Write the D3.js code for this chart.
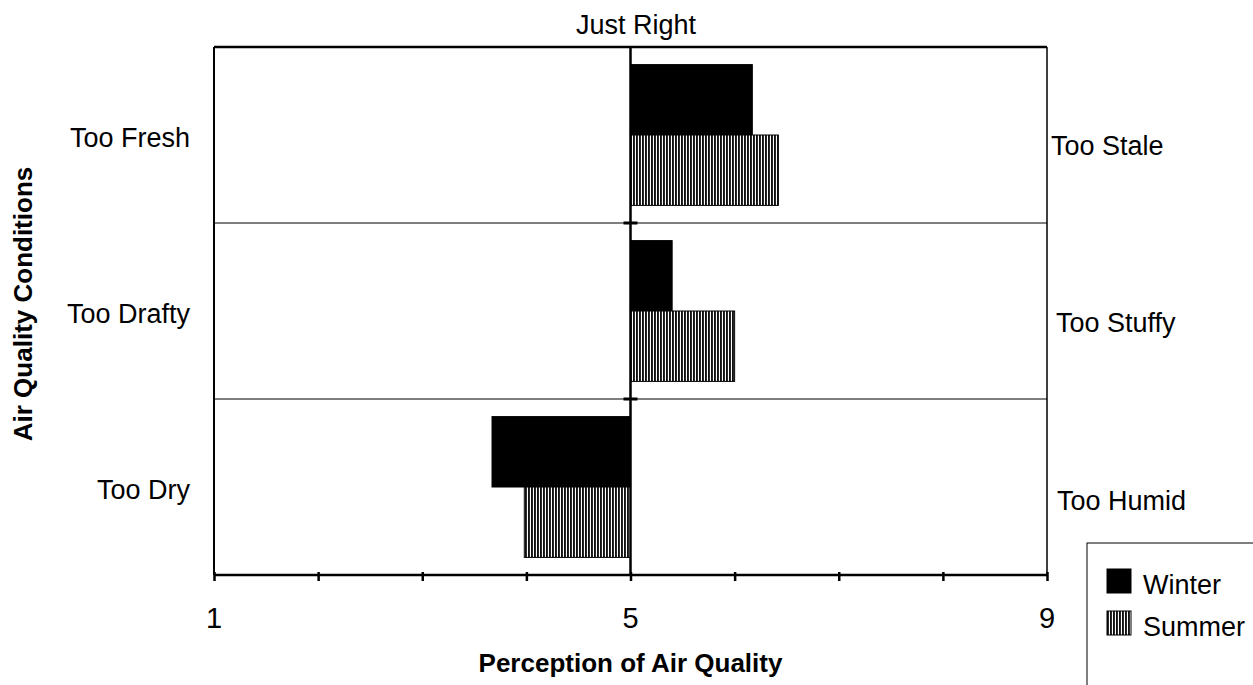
<!DOCTYPE html>
<html>
<head>
<meta charset="utf-8">
<script src="https://cdn.jsdelivr.net/npm/d3@7"></script>
<style>
  html, body { margin: 0; padding: 0; background: #fff; }
  svg { display: block; }
  text { font-family: "Liberation Sans", Arial, sans-serif; fill: #000; }
</style>
</head>
<body>
<svg id="chart" width="1253" height="685"></svg>
<script>
// Perception of air quality on a 1–9 scale (5 = just right)
const conditionsLeft  = ["Too Fresh", "Too Drafty", "Too Dry"];
const conditionsRight = ["Too Stale", "Too Stuffy", "Too Humid"];
const seasons = ["Winter", "Summer"];
const winterValues = [6.17, 5.40, 3.67];
const summerValues = [6.42, 6.00, 3.98];
const tickValues = [1, 2, 3, 4, 5, 6, 7, 8, 9];
const tickLabels = [1, 5, 9];
const neutral = 5;

const svg = d3.select("#chart");
const margin = { left: 214, right: 1047, top: 47, bottom: 575 };

const x = d3.scaleLinear().domain([1, 9]).range([margin.left, margin.right]);
const y = d3.scaleBand().domain(conditionsLeft).range([margin.top, margin.bottom]).padding(0);
const ySub = d3.scaleBand().domain(seasons).range([0, y.bandwidth()]).paddingInner(0).paddingOuter(0.25);

// vertical stripe fill for the summer series
const defs = svg.append("defs");
const pat = defs.append("pattern")
  .attr("id", "stripes").attr("patternUnits", "userSpaceOnUse")
  .attr("width", 3).attr("height", 10);
pat.append("rect").attr("width", 3).attr("height", 10).attr("fill", "#fff");
pat.append("rect").attr("width", 1.9).attr("height", 10).attr("fill", "#111");

const rows = conditionsLeft.map((c, i) => ({
  cond: c, right: conditionsRight[i],
  vals: [{ s: "Winter", v: winterValues[i] }, { s: "Summer", v: summerValues[i] }]
}));

// band separators
svg.append("g").selectAll("line")
  .data(conditionsLeft.slice(1))
  .join("line")
  .attr("x1", margin.left).attr("x2", margin.right)
  .attr("y1", d => y(d)).attr("y2", d => y(d))
  .attr("stroke", "#000").attr("stroke-width", 1);

// bars
const g = svg.append("g");
rows.forEach(r => {
  g.selectAll(null)
    .data(r.vals)
    .join("rect")
    .attr("x", d => x(Math.min(d.v, neutral)))
    .attr("width", d => Math.abs(x(d.v) - x(neutral)))
    .attr("y", d => y(r.cond) + ySub(d.s))
    .attr("height", ySub.bandwidth())
    .attr("fill", d => d.s === "Winter" ? "#000" : "url(#stripes)")
    .attr("stroke", "#000").attr("stroke-width", 1);
});

// frame
svg.append("line").attr("x1", margin.left).attr("x2", margin.right)
  .attr("y1", margin.top).attr("y2", margin.top).attr("stroke", "#000").attr("stroke-width", 2.5);
svg.append("line").attr("x1", margin.left).attr("x2", margin.left)
  .attr("y1", margin.top).attr("y2", margin.bottom).attr("stroke", "#000").attr("stroke-width", 2);
svg.append("line").attr("x1", margin.right).attr("x2", margin.right)
  .attr("y1", margin.top).attr("y2", margin.bottom).attr("stroke", "#000").attr("stroke-width", 1.5);

// neutral line with crossbars at band boundaries
svg.append("line").attr("x1", x(neutral)).attr("x2", x(neutral))
  .attr("y1", margin.top).attr("y2", margin.bottom).attr("stroke", "#000").attr("stroke-width", 2.5);
svg.append("g").selectAll("line")
  .data(conditionsLeft.slice(1))
  .join("line")
  .attr("x1", x(neutral) - 7).attr("x2", x(neutral) + 7)
  .attr("y1", d => y(d)).attr("y2", d => y(d))
  .attr("stroke", "#000").attr("stroke-width", 3);

// bottom axis
const axis = d3.axisBottom(x).tickValues(tickValues).tickSize(9).tickFormat("");
const ax = svg.append("g").attr("transform", `translate(0,${margin.bottom - 3})`).call(axis);
ax.select(".domain").remove();
ax.selectAll(".tick line").attr("stroke", "#000").attr("stroke-width", 2.5);
svg.append("line").attr("x1", margin.left).attr("x2", margin.right)
  .attr("y1", margin.bottom).attr("y2", margin.bottom).attr("stroke", "#000").attr("stroke-width", 2.5);

svg.append("g").selectAll("text")
  .data(tickLabels)
  .join("text")
  .attr("x", d => x(d)).attr("y", 628)
  .attr("text-anchor", "middle")
  .style("font-size", "29px")
  .text(d => d);

// category labels
svg.append("g").selectAll("text")
  .data(rows)
  .join("text")
  .attr("x", 190).attr("y", (d, i) => [147, 323, 499][i])
  .attr("text-anchor", "end")
  .style("font-size", "27px")
  .text(d => d.cond);
svg.append("g").selectAll("text")
  .data(rows)
  .join("text")
  .attr("x", (d, i) => [1051, 1056, 1057][i])
  .attr("y", (d, i) => [155, 332, 510][i])
  .attr("text-anchor", "start")
  .style("font-size", "27px")
  .text(d => d.right);

// titles
svg.append("text").attr("x", 636).attr("y", 34)
  .attr("text-anchor", "middle").style("font-size", "27px").text("Just Right");
svg.append("text").attr("x", x(neutral)).attr("y", 672)
  .attr("text-anchor", "middle").style("font-size", "26px").style("font-weight", "bold")
  .text("Perception of Air Quality");
svg.append("text")
  .attr("transform", `translate(32,${304}) rotate(-90)`)
  .attr("text-anchor", "middle").style("font-size", "26px").style("font-weight", "bold")
  .text("Air Quality Conditions");

// legend
const lg = svg.append("g");
lg.append("rect").attr("x", 1087).attr("y", 543).attr("width", 200).attr("height", 200)
  .attr("fill", "#fff").attr("stroke", "#000").attr("stroke-width", 1);
const legendItems = lg.selectAll("g.item").data(seasons).join("g")
  .attr("transform", (d, i) => `translate(1107,${569 + i * 42})`);
legendItems.append("rect").attr("width", 24).attr("height", 24)
  .attr("fill", d => d === "Winter" ? "#000" : "url(#stripes)")
  .attr("stroke", "#000").attr("stroke-width", 1);
legendItems.append("text").attr("x", 36).attr("y", 25)
  .style("font-size", "27px").text(d => d);
</script>
</body>
</html>
